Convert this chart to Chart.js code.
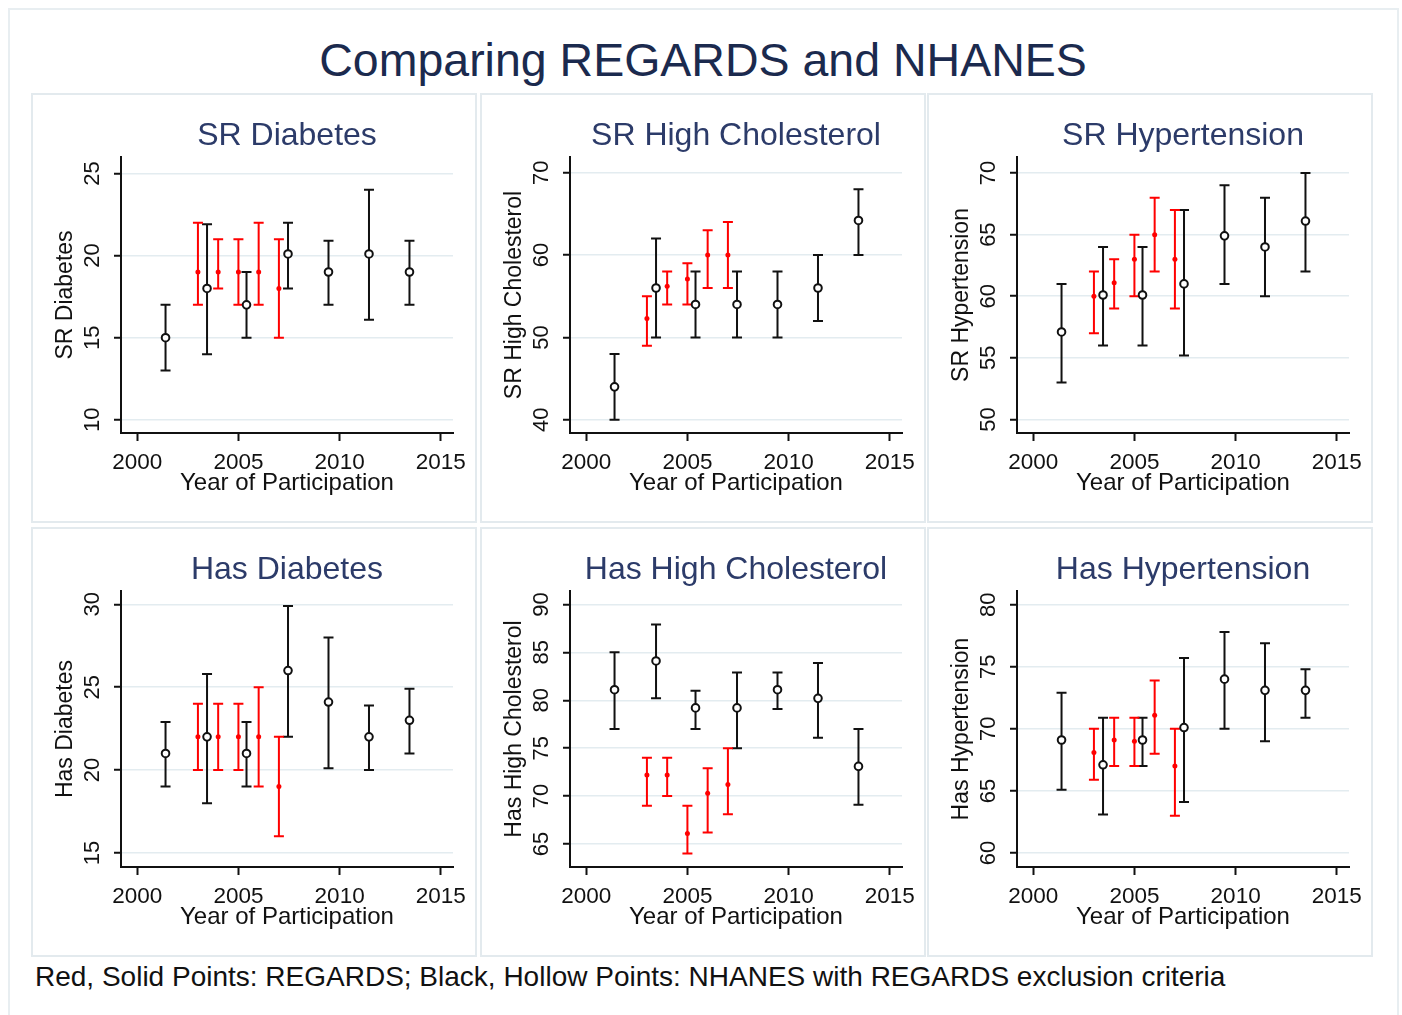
<!DOCTYPE html>
<html>
<head>
<meta charset="utf-8">
<script src="https://cdn.jsdelivr.net/npm/chart.js@4.4.0/dist/chart.umd.min.js"></script>
<style>
  body { margin: 0; background: #fff; font-family: "Liberation Sans", Arial, sans-serif; }
  #page { position: relative; width: 1402px; height: 1015px; overflow: hidden; }
  #frame { position: absolute; left: 8px; top: 8px; width: 1391px; height: 1030px; border: 2px solid #e8eef1; box-sizing: border-box; }
  #title { position: absolute; left: 0; top: 37px; width: 1406px; text-align: center; font-size: 46.5px; line-height: 1; color: #1b2a4e; }
  .panel { position: absolute; width: 446px; height: 430px; border: 2px solid #e3eaee; box-sizing: border-box; }
  .panel canvas { display: block; }
  #note { position: absolute; left: 35px; top: 963px; font-size: 28px; line-height: 1; color: #111; white-space: nowrap; }
</style>
</head>
<body>
<div id="page">
  <div id="frame"></div>
  <div id="title">Comparing REGARDS and NHANES</div>
  <div class="panel" style="left:31px; top:93px;"><canvas id="c1" width="442" height="426"></canvas></div>
  <div class="panel" style="left:480px; top:93px;"><canvas id="c2" width="442" height="426"></canvas></div>
  <div class="panel" style="left:927px; top:93px;"><canvas id="c3" width="442" height="426"></canvas></div>
  <div class="panel" style="left:31px; top:527px;"><canvas id="c4" width="442" height="426"></canvas></div>
  <div class="panel" style="left:480px; top:527px;"><canvas id="c5" width="442" height="426"></canvas></div>
  <div class="panel" style="left:927px; top:527px;"><canvas id="c6" width="442" height="426"></canvas></div>
  <div id="note">Red, Solid Points: REGARDS; Black, Hollow Points: NHANES with REGARDS exclusion criteria</div>
</div>
<script>
// years of participation
const nhanesYears = [2001.4, 2003.45, 2005.4, 2007.45, 2009.45, 2011.45, 2013.45];
const regardsYears = [2003, 2004, 2005, 2006, 2007];
const xTicks = [2000, 2005, 2010, 2015];

// SR Diabetes
const srDiabetesNhanes = [15, 18, 17, 20.1, 19, 20.1, 19];
const srDiabetesNhanesLo = [13, 14, 15, 18, 17, 16.1, 17];
const srDiabetesNhanesHi = [17, 21.9, 19, 22, 20.9, 24, 20.9];
const srDiabetesRegards = [19, 19, 19, 19, 18];
const srDiabetesRegardsLo = [17, 18, 17, 17, 15];
const srDiabetesRegardsHi = [22, 21, 21, 22, 21];
const srDiabetesTicks = [10, 15, 20, 25];

// SR High Cholesterol
const srCholNhanes = [44, 56, 54, 54, 54, 56, 64.2];
const srCholNhanesLo = [40, 50, 50, 50, 50, 52, 60];
const srCholNhanesHi = [48, 62, 58, 58, 58, 60, 68];
const srCholRegards = [52.3, 56.2, 57.1, 60, 60];
const srCholRegardsLo = [49, 54, 54, 56, 56];
const srCholRegardsHi = [55, 58, 59, 63, 64];
const srCholTicks = [40, 50, 60, 70];

// SR Hypertension
const srHypNhanes = [57.1, 60.1, 60.1, 61, 64.9, 64, 66.1];
const srHypNhanesLo = [53, 56, 56, 55.2, 61, 60, 62];
const srHypNhanesHi = [61, 64, 64, 67, 69, 68, 70];
const srHypRegards = [60, 61.1, 63, 65, 63];
const srHypRegardsLo = [57, 59, 60, 62, 59];
const srHypRegardsHi = [62, 63, 65, 68, 67];
const srHypTicks = [50, 55, 60, 65, 70];

// Has Diabetes
const hasDiabetesNhanes = [21, 22, 21, 26, 24.1, 22, 23];
const hasDiabetesNhanesLo = [19, 18, 19, 22, 20.1, 20, 21];
const hasDiabetesNhanesHi = [22.9, 25.8, 22.9, 29.9, 28, 23.9, 24.9];
const hasDiabetesRegards = [22, 22, 22, 22, 19];
const hasDiabetesRegardsLo = [20, 20, 20, 19, 16];
const hasDiabetesRegardsHi = [24, 24, 24, 25, 22];
const hasDiabetesTicks = [15, 20, 25, 30];

// Has High Cholesterol
const hasCholNhanes = [81.1, 84.1, 79.2, 79.2, 81.1, 80.2, 73.1];
const hasCholNhanesLo = [77, 80.2, 77, 75, 79.1, 76.1, 69.1];
const hasCholNhanesHi = [85, 87.9, 81, 82.9, 82.9, 83.9, 77];
const hasCholRegards = [72.2, 72.2, 66.1, 70.3, 71.2];
const hasCholRegardsLo = [69, 70, 64, 66.2, 68.1];
const hasCholRegardsHi = [74, 74, 69, 72.9, 75];
const hasCholTicks = [65, 70, 75, 80, 85, 90];

// Has Hypertension
const hasHypNhanes = [69.1, 67.1, 69.1, 70.1, 74, 73.1, 73.1];
const hasHypNhanesLo = [65.1, 63.1, 67, 64.1, 70, 69, 70.9];
const hasHypNhanesHi = [72.9, 70.9, 70.9, 75.7, 77.8, 76.9, 74.8];
const hasHypRegards = [68.1, 69.1, 69, 71.1, 67];
const hasHypRegardsLo = [65.9, 67, 67, 68, 63];
const hasHypRegardsHi = [70, 70.9, 70.9, 73.9, 70];
const hasHypTicks = [60, 65, 70, 75, 80];

const FONT = '"Liberation Sans", Arial, sans-serif';
const INK = '#111';

// draws the confidence intervals under the points
const errorBars = {
  id: 'errorBars',
  beforeDatasetsDraw(chart) {
    const ctx = chart.ctx;
    const x = chart.scales.x, y = chart.scales.y;
    chart.data.datasets.forEach(ds => {
      ctx.save();
      ctx.strokeStyle = ds.barColor;
      ctx.lineWidth = 2;
      ds.data.forEach((p, i) => {
        const px = x.getPixelForValue(p.x);
        const top = y.getPixelForValue(ds.hi[i]);
        const bot = y.getPixelForValue(ds.lo[i]);
        ctx.beginPath();
        ctx.moveTo(px, top); ctx.lineTo(px, bot);
        ctx.moveTo(px - 5, top); ctx.lineTo(px + 5, top);
        ctx.moveTo(px - 5, bot); ctx.lineTo(px + 5, bot);
        ctx.stroke();
      });
      ctx.restore();
    });
  }
};

// panel title over the plot region, Stata style vertical y tick labels and y title
const panelText = {
  id: 'panelText',
  afterDraw(chart, args, opts) {
    const ctx = chart.ctx;
    const area = chart.chartArea;
    const y = chart.scales.y;
    ctx.save();
    ctx.textAlign = 'center';
    ctx.textBaseline = 'alphabetic';
    ctx.fillStyle = '#2c3b69';
    ctx.font = '32px ' + FONT;
    ctx.fillText(opts.title, (area.left + area.right) / 2, 50);

    ctx.fillStyle = INK;
    ctx.textBaseline = 'middle';
    ctx.font = '22px ' + FONT;
    y.ticks.forEach(t => {
      ctx.save();
      ctx.translate(area.left - 28, y.getPixelForValue(t.value));
      ctx.rotate(-Math.PI / 2);
      ctx.fillText(String(t.value), 0, 0);
      ctx.restore();
    });
    ctx.font = '23px ' + FONT;
    ctx.translate(33, (area.top + area.bottom) / 2);
    ctx.rotate(-Math.PI / 2);
    ctx.fillText(opts.yTitle, 0, 0);
    ctx.restore();
  }
};

function makePanel(id, title, yTitle, yMin, yMax, yTicks, nh, nhLo, nhHi, reg, regLo, regHi) {
  new Chart(document.getElementById(id), {
    type: 'scatter',
    data: {
      datasets: [{
        label: 'NHANES',
        data: nhanesYears.map((yr, i) => ({ x: yr, y: nh[i] })),
        lo: nhLo, hi: nhHi, barColor: INK,
        pointRadius: 3.8,
        pointBorderWidth: 2,
        borderColor: INK,
        backgroundColor: '#fff'
      }, {
        label: 'REGARDS',
        data: regardsYears.map((yr, i) => ({ x: yr, y: reg[i] })),
        lo: regLo, hi: regHi, barColor: '#f00',
        pointRadius: 2.5,
        pointBorderWidth: 0,
        borderColor: '#f00',
        backgroundColor: '#f00'
      }]
    },
    options: {
      responsive: false,
      animation: false,
      layout: { padding: { left: 0, right: 22, top: 62, bottom: 0 } },
      plugins: {
        legend: { display: false },
        tooltip: { enabled: false },
        title: { display: false },
        panelText: { title: title, yTitle: yTitle }
      },
      scales: {
        x: {
          type: 'linear',
          min: 1999.2,
          max: 2015.6,
          afterBuildTicks: s => { s.ticks = xTicks.map(v => ({ value: v })); },
          afterFit: s => { s.height = 88; },
          ticks: {
            color: INK,
            font: { family: FONT, size: 22.5 },
            padding: 8,
            maxRotation: 0,
            callback: v => String(v)
          },
          title: {
            display: true,
            text: 'Year of Participation',
            color: INK,
            font: { family: FONT, size: 24 },
            padding: { top: 0, bottom: 23 }
          },
          border: { color: INK, width: 2 },
          grid: { drawOnChartArea: false, tickColor: INK, tickLength: 8, tickWidth: 2 }
        },
        y: {
          min: yMin,
          max: yMax,
          afterBuildTicks: s => { s.ticks = yTicks.map(v => ({ value: v })); },
          afterFit: s => { s.width = 88; },
          ticks: { display: false },
          border: { color: INK, width: 2 },
          grid: { color: '#e3ecf0', lineWidth: 1.5, tickColor: INK, tickLength: 7, tickWidth: 2 }
        }
      }
    },
    plugins: [errorBars, panelText]
  });
}

makePanel('c1', 'SR Diabetes', 'SR Diabetes', 9.2, 26, srDiabetesTicks,
  srDiabetesNhanes, srDiabetesNhanesLo, srDiabetesNhanesHi, srDiabetesRegards, srDiabetesRegardsLo, srDiabetesRegardsHi);
makePanel('c2', 'SR High Cholesterol', 'SR High Cholesterol', 38.4, 71.9, srCholTicks,
  srCholNhanes, srCholNhanesLo, srCholNhanesHi, srCholRegards, srCholRegardsLo, srCholRegardsHi);
makePanel('c3', 'SR Hypertension', 'SR Hypertension', 48.9, 71.3, srHypTicks,
  srHypNhanes, srHypNhanesLo, srHypNhanesHi, srHypRegards, srHypRegardsLo, srHypRegardsHi);
makePanel('c4', 'Has Diabetes', 'Has Diabetes', 14.15, 30.8, hasDiabetesTicks,
  hasDiabetesNhanes, hasDiabetesNhanesLo, hasDiabetesNhanesHi, hasDiabetesRegards, hasDiabetesRegardsLo, hasDiabetesRegardsHi);
makePanel('c5', 'Has High Cholesterol', 'Has High Cholesterol', 62.6, 91.4, hasCholTicks,
  hasCholNhanes, hasCholNhanesLo, hasCholNhanesHi, hasCholRegards, hasCholRegardsLo, hasCholRegardsHi);
makePanel('c6', 'Has Hypertension', 'Has Hypertension', 58.87, 81.1, hasHypTicks,
  hasHypNhanes, hasHypNhanesLo, hasHypNhanesHi, hasHypRegards, hasHypRegardsLo, hasHypRegardsHi);
</script>
</body>
</html>
